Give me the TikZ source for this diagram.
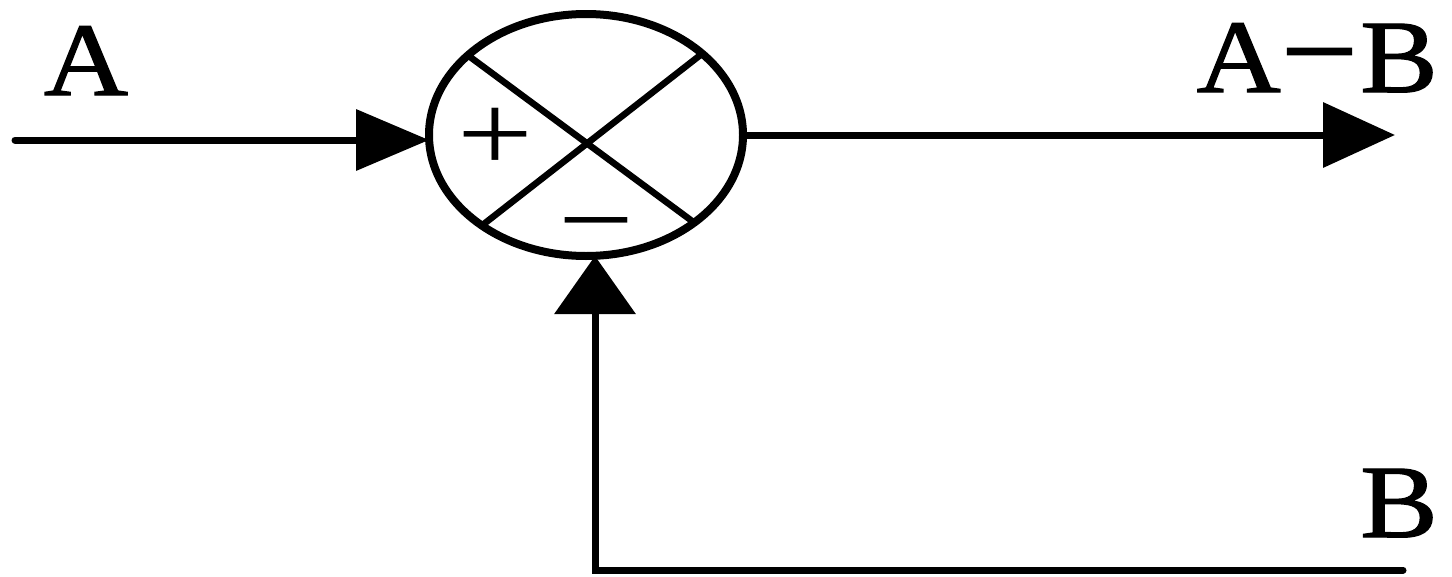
\documentclass[tikz,border=0pt]{standalone}
\usepackage{fontspec}
\setmainfont{Liberation Serif}
\newfontfamily\lblfont[FakeBold=1.2]{Liberation Serif}
\usetikzlibrary{arrows.meta,shapes.geometric}
\tikzset{
  conn/.style={line width=7pt, line cap=round},
  lbl/.style={inner sep=0pt, font=\fontsize{104}{110}\lblfont, xscale=1.12},
  sign/.style={inner sep=0pt, font=\fontsize{112}{120}\selectfont, xscale=1.2},
  cross/.style={line width=6.5pt},
}
\begin{document}
\begin{tikzpicture}[x=1pt,y=-1pt]
\useasboundingbox[fill=white] (0,0) rectangle (1452,576);
\node[draw, ellipse, line width=8pt, minimum width=314pt, minimum height=242pt, inner sep=0pt, outer sep=0pt] (sum) at (586,135) {};
\draw[cross] (sum.146) -- (sum.-39);
\draw[cross] (sum.35) -- (sum.221);
\node[sign, anchor=base] (plus) at (495,171) {+};
\node[sign, anchor=base] (minus) at (596,257) {−};
\coordinate (in) at (15,140);
\coordinate (out) at (1395,135);
\coordinate (fb) at (595,570);
\coordinate (bend) at (1403,570);
\draw[conn, -{Triangle[length=73pt, width=60pt]}] (in) -- (in -| sum.west);
\draw[conn, -{Triangle[length=72pt, width=64pt]}] (sum.east) -- (out);
\draw[conn, line join=miter, -{Triangle[length=58pt, width=80pt]}] (bend) -- (fb) -- (fb |- sum.south);
\node[lbl, anchor=base] (A) at (86,95) {A};
\node[lbl, anchor=base east] (AB) at (1438,92) {A\smash{\fontsize{122}{122}\selectfont −}\hspace{2pt}B};
\node[lbl, anchor=base east] (B) at (1438,537) {B};
\end{tikzpicture}
\end{document}
